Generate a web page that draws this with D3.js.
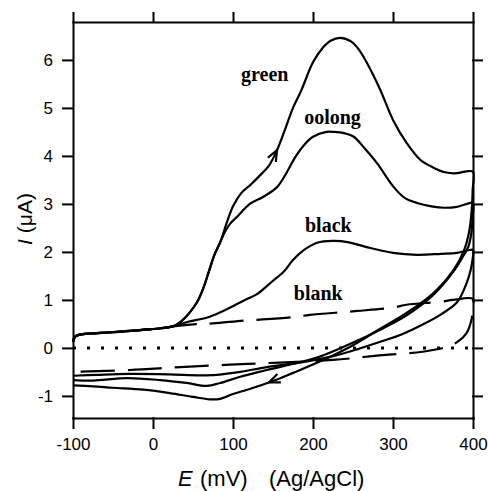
<!DOCTYPE html>
<html>
<head>
<meta charset="utf-8">
<script src="https://cdn.jsdelivr.net/npm/d3@7"></script>
<style>
  body { margin: 0; background: #fff; }
  svg { display: block; }
</style>
</head>
<body>
<div id="chart"></div>
<script>
// E in mV (Ag/AgCl), I in uA
const baseForward = [[-100,0.13],[-97,0.24],[-90,0.28],[-70,0.31],[-40,0.34],[-10,0.38],[10,0.41],[25,0.45]];
const riseForward = [[35,0.55],[45,0.72],[55,0.95],[63,1.25],[70,1.6],[77,1.95],[84,2.2]];

const greenForward = [[92,2.6],[100,2.95],[110,3.22],[122,3.4],[134,3.6],[145,3.8],[155,4.12],[165,4.55],
  [175,5.0],[185,5.35],[200,5.95],[212,6.25],[222,6.4],[234,6.46],[248,6.38],[258,6.2],[268,5.92],
  [284,5.38],[300,4.75],[317,4.27],[334,3.92],[350,3.76],[365,3.66],[380,3.64],[392,3.68],[400,3.67]];
const greenReverse = [[399.6,3.3],[398.5,2.9],[395.5,2.45],[389,2.04],[376,1.63],[351,1.15],[317,0.73],
  [284,0.4],[246,0.02],[205,-0.31],[175,-0.52],[150,-0.69],[120,-0.86],[100,-0.96],[84,-1.06],[71,-1.07],
  [50,-1.02],[21,-0.94],[-12,-0.87],[-50,-0.83],[-75,-0.8],[-100,-0.78]];

const oolongForward = [[90,2.42],[97,2.6],[105,2.73],[121,3.0],[138,3.15],[155,3.35],[167,3.65],[178,3.98],
  [190,4.25],[200,4.4],[217,4.5],[226,4.5],[240,4.47],[251,4.4],[265,4.15],[280,3.85],[301,3.35],
  [315,3.12],[330,3.02],[348,2.95],[364,2.92],[380,2.94],[397,3.02],[400,3.02]];
const oolongReverse = [[399.5,2.7],[398,2.4],[394,2.1],[388,1.92],[375,1.58],[350,1.1],[317,0.68],[284,0.38],
  [246,0.08],[205,-0.2],[142,-0.46],[109,-0.6],[84,-0.73],[67,-0.79],[42,-0.73],[9,-0.67],[-32,-0.63],
  [-75,-0.68],[-100,-0.67]];

const blackForward = [[45,0.55],[67,0.63],[85,0.75],[100,0.87],[115,1.0],[130,1.12],[150,1.4],[163,1.58],
  [175,1.83],[188,2.03],[205,2.19],[225,2.23],[245,2.2],[267,2.1],[300,1.98],[330,1.94],[360,1.96],
  [380,1.98],[396,2.04],[400,2.04]];
const blackReverse = [[399.5,1.85],[397,1.62],[392,1.35],[380,0.95],[360,0.7],[342,0.53],[309,0.27],
  [288,0.15],[255,-0.03],[225,-0.17],[185,-0.3],[142,-0.4],[109,-0.5],[80,-0.56],[59,-0.57],[20,-0.55],
  [-30,-0.54],[-70,-0.56],[-100,-0.58]];

const blankForward = [[50,0.49],[75,0.51],[113,0.57],[134,0.59],[180,0.65],[196,0.69],[242,0.75],[256,0.77],
  [300,0.84],[317,0.9],[359,0.96],[375,1.0],[400,1.02]];
const blankReverse = [[399.5,0.8],[398,0.58],[392,0.31],[380,0.12],[367,0.02],[337,-0.08],[287,-0.15],
  [225,-0.25],[150,-0.31],[96,-0.35],[34,-0.4],[-29,-0.46],[-100,-0.5]];

const xTicks = [-100, 0, 100, 200, 300, 400];
const yTicks = [-1, 0, 1, 2, 3, 4, 5, 6];

const seriesLabels = [
  { name: "green", at: [110, 5.56] },
  { name: "oolong", at: [189, 4.67] },
  { name: "black", at: [190, 2.42] },
  { name: "blank", at: [176, 0.99] }
];

// scan direction arrows: tip and a point behind it on the curve
const arrows = [
  { tip: [155, 4.12], back: [148, 3.9] },
  { tip: [145, -0.72], back: [165, -0.58] }
];

const width = 488, height = 491;

const svg = d3.select("#chart")
  .append("svg")
  .attr("width", width)
  .attr("height", height);

const x = d3.scaleLinear().domain([-100, 400]).range([73, 473]);
const y = d3.scaleLinear().domain([-1.46, 6.79]).range([418, 22]);

const tickFont = "'Liberation Sans', Arial, Helvetica, sans-serif";

function styleAxis(g) {
  g.selectAll("path, line").attr("stroke", "#000").attr("stroke-width", 2).attr("stroke-linecap", "square");
  g.selectAll("text").attr("font-size", "17px").attr("font-family", tickFont).attr("fill", "#000");
}

// Bottom and left axes (labelled)
svg.append("g")
  .attr("transform", `translate(0,${y.range()[0]})`)
  .call(d3.axisBottom(x).tickValues(xTicks).tickFormat(d => String(d)).tickSize(10).tickPadding(10).tickSizeOuter(0))
  .call(styleAxis);

svg.append("g")
  .attr("transform", `translate(${x.range()[0]},0)`)
  .call(d3.axisLeft(y).tickValues(yTicks).tickFormat(d => String(d)).tickSize(10).tickPadding(10).tickSizeOuter(0))
  .call(styleAxis);

// Top and right axes (ticks only)
svg.append("g")
  .attr("transform", `translate(0,${y.range()[1]})`)
  .call(d3.axisTop(x).tickValues(xTicks).tickFormat("").tickSize(9).tickSizeOuter(0))
  .call(styleAxis);

svg.append("g")
  .attr("transform", `translate(${x.range()[1]},0)`)
  .call(d3.axisRight(y).tickValues(yTicks).tickFormat("").tickSize(9).tickSizeOuter(0))
  .call(styleAxis);

// zero line (dotted)
svg.append("line")
  .attr("x1", x(-100)).attr("x2", x(400))
  .attr("y1", y(0)).attr("y2", y(0))
  .attr("stroke", "#000")
  .attr("stroke-width", 3)
  .attr("stroke-dasharray", "3,11");

const line = d3.line()
  .x(d => x(d[0]))
  .y(d => y(d[1]))
  .curve(d3.curveCatmullRom.alpha(0.5));

const curves = [
  { pts: baseForward.concat(riseForward, greenForward, greenReverse), dash: null },
  { pts: baseForward.concat(riseForward, oolongForward, oolongReverse), dash: null },
  { pts: baseForward.concat(blackForward, blackReverse), dash: null },
  { pts: baseForward.concat(blankForward, blankReverse), dash: "34,13" }
];

svg.selectAll(".cv")
  .data(curves)
  .enter()
  .append("path")
  .attr("class", "cv")
  .attr("d", d => line(d.pts))
  .attr("fill", "none")
  .attr("stroke", "#000")
  .attr("stroke-width", 2.2)
  .attr("stroke-linejoin", "round")
  .attr("stroke-dasharray", d => d.dash);

// arrows
svg.selectAll(".arrow")
  .data(arrows)
  .enter()
  .append("path")
  .attr("class", "arrow")
  .attr("d", "M-11,-4.5L0,0L-11,4.5")
  .attr("transform", d => {
    const tx = x(d.tip[0]), ty = y(d.tip[1]);
    const a = Math.atan2(ty - y(d.back[1]), tx - x(d.back[0])) * 180 / Math.PI;
    return `translate(${tx},${ty}) rotate(${a})`;
  })
  .attr("fill", "none")
  .attr("stroke", "#000")
  .attr("stroke-width", 2.2);

// series labels
svg.selectAll(".lbl")
  .data(seriesLabels)
  .enter()
  .append("text")
  .attr("class", "lbl")
  .attr("x", d => x(d.at[0]))
  .attr("y", d => y(d.at[1]))
  .attr("font-family", "'Liberation Serif', 'Times New Roman', serif")
  .attr("font-weight", "bold")
  .attr("font-size", "20px")
  .text(d => d.name);

// x axis title
const xt = svg.append("text")
  .attr("y", 486)
  .attr("font-family", tickFont)
  .attr("font-size", "22px");
xt.append("tspan").attr("x", 178).attr("font-style", "italic").text("E");
xt.append("tspan").attr("x", 200).text("(mV)");
xt.append("tspan").attr("x", 269).text("(Ag/AgCl)");

// y axis title
const yt = svg.append("text")
  .attr("transform", "translate(32,219) rotate(-90)")
  .attr("text-anchor", "middle")
  .attr("font-family", tickFont)
  .attr("font-size", "21px");
yt.append("tspan").attr("font-style", "italic").text("I");
yt.append("tspan").text(" (\u03bcA)");
</script>
</body>
</html>
